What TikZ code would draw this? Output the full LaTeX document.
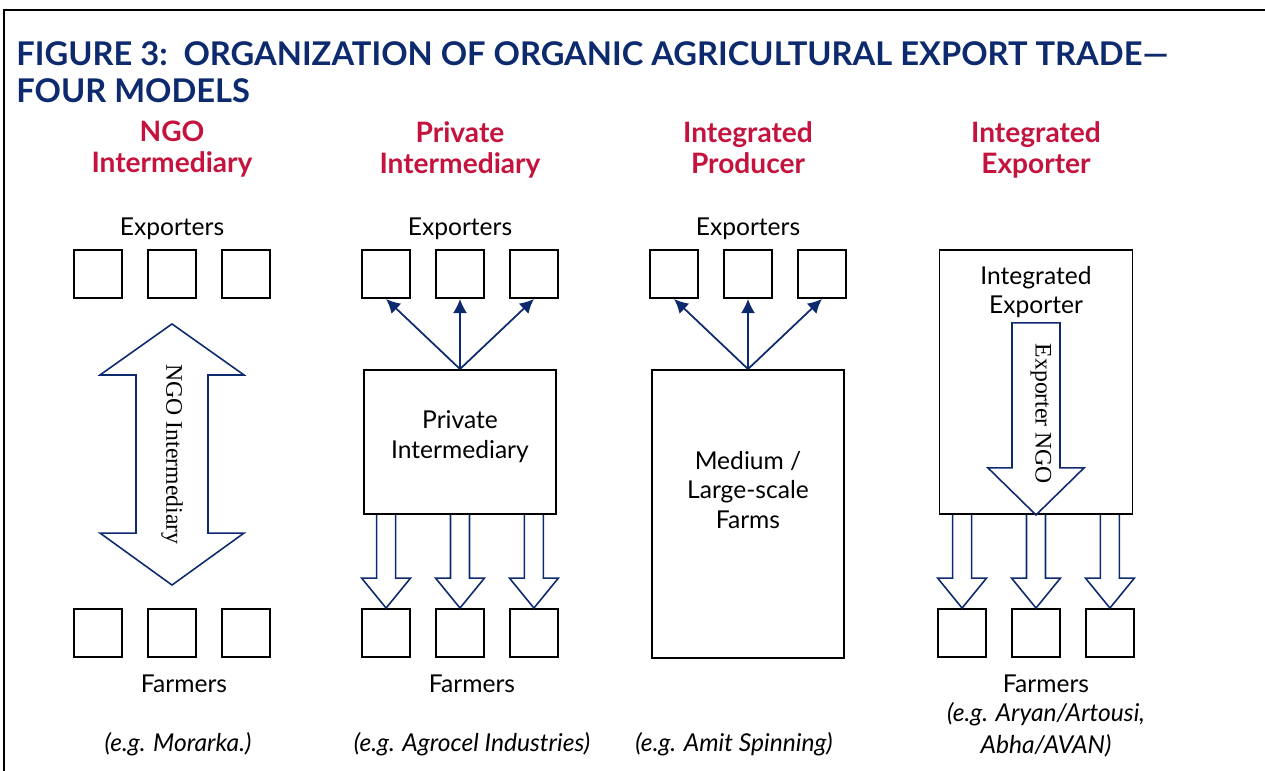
\documentclass[tikz,border=0pt]{standalone}
\usepackage{fontspec}
\setmainfont{Lato}
\newfontfamily\serifrm{Liberation Serif}
\usetikzlibrary{positioning,calc,arrows.meta}
\definecolor{navy}{RGB}{14,42,110}
\definecolor{crimson}{RGB}{196,20,62}
\newcommand{\fatarrow}[2]{\draw[fat] ($(#1)+(-9.5,0)$) -- ($(#2)+(-9.5,-30)$) -- ($(#2)+(-24.5,-30)$) -- (#2) -- ($(#2)+(24.5,-30)$) -- ($(#2)+(9.5,-30)$) -- ($(#1)+(9.5,0)$);}

\begin{document}
\begin{tikzpicture}[x=0.02cm,y=-0.02cm]
\tikzstyle{box}=[rectangle, draw=black, line width=1.1pt, minimum size=0.96cm, inner sep=0, node distance=0.48cm]
\tikzstyle{bigbox}=[rectangle, draw=black, line width=1.1pt, minimum width=3.84cm, inner sep=0]
\tikzstyle{connect}=[-{Latex[length=8pt,width=8pt]}, navy, line width=1pt]
\tikzstyle{fat}=[navy, line width=0.9pt, line join=miter]
\tikzstyle{title}=[anchor=base west, navy, inner sep=0, font=\fontsize{18.6}{20}\bfseries\selectfont]
\tikzstyle{head}=[crimson, anchor=north, inner sep=0, font=\fontsize{16}{17.6}\bfseries\selectfont, align=center]
\tikzstyle{lbl}=[font=\fontsize{14}{17}\selectfont, align=center]
\tikzstyle{eg}=[font=\fontsize{14}{18}\itshape\selectfont, align=center]
\tikzstyle{side}=[font=\serifrm\fontsize{13.5}{16}\selectfont, rotate=-90]
  \useasboundingbox (0,0) rectangle (1265,771);
  \draw[line width=1.1pt] (4,771) -- (4,10) -- (1265,10);
  \node[title] (t1) at (16,65) {FIGURE 3:\ \ ORGANIZATION OF ORGANIC AGRICULTURAL EXPORT TRADE—};
  \node[title] (t2) at (16,102) {FOUR MODELS};
  \node[head] (h1) at (172,121) {NGO\\Intermediary};
  \node[head] (h2) at (460,121) {Private\\Intermediary};
  \node[head] (h3) at (748,121) {Integrated\\Producer};
  \node[head] (h4) at (1036,121) {Integrated\\Exporter};

  \node[box] (e1b) at (172,274) [label={[lbl,label distance=2pt]above:Exporters}] {};
  \node[box] (e1a) [left=of e1b] {};
  \node[box] (e1c) [right=of e1b] {};
  \node[box] (f1b) at (172,633) {};
  \node[box] (f1a) [left=of f1b] {};
  \node[box] (f1c) [right=of f1b] {};
  \coordinate (n1top) at ($(e1b.south)+(0,25)$);
  \coordinate (n1bot) at ($(f1b.north)+(0,-23)$);
  \draw[fat] (n1top) -- ++(72,51) -- ++(-36,0) -- ($(n1bot)+(36,-52)$) -- ++(36,0) -- (n1bot)
    -- ++(-72,-52) -- ++(36,0) -- ($(n1top)+(-36,51)$) -- ++(-36,0) -- cycle;
  \node[side] (ngo) at ($(n1top)!0.5!(n1bot)$) {NGO Intermediary};

  \node[box] (e2b) at (460,274) [label={[lbl,label distance=2pt]above:Exporters}] {};
  \node[box] (e2a) [left=of e2b] {};
  \node[box] (e2c) [right=of e2b] {};
  \node[bigbox, minimum height=2.88cm] (pi) at (460,442) {};
  \node[lbl] (pit) at (460,437) {Private\\Intermediary};
  \node[box] (f2b) at (460,633) {};
  \node[box] (f2a) [left=of f2b] {};
  \node[box] (f2c) [right=of f2b] {};
  \path[connect] (pi.north) edge (e2a.south)
                 (pi.north) edge (e2b.south)
                 (pi.north) edge (e2c.south);
  \coordinate (s2a) at (pi.south -| f2a.north);
  \coordinate (s2b) at (pi.south -| f2b.north);
  \coordinate (s2c) at (pi.south -| f2c.north);
  \fatarrow{s2a}{f2a.north}
  \fatarrow{s2b}{f2b.north}
  \fatarrow{s2c}{f2c.north}

  \node[box] (e3b) at (748,274) [label={[lbl,label distance=2pt]above:Exporters}] {};
  \node[box] (e3a) [left=of e3b] {};
  \node[box] (e3c) [right=of e3b] {};
  \node[bigbox, minimum height=5.76cm] (mf) at (748,514) {};
  \node[lbl] (mft) at (748,490) {Medium /\\Large-scale\\Farms};
  \path[connect] (mf.north) edge (e3a.south)
                 (mf.north) edge (e3b.south)
                 (mf.north) edge (e3c.south);

  \node[bigbox, minimum width=3.86cm, minimum height=5.28cm] (ie) at (1036,382) {};
  \node[lbl] (iet) at (1036,292) {Integrated\\Exporter};
  \draw[fat] ($(ie.south)+(-24,-192)$) -- ($(ie.south)+(-24,-47)$) -- ++(-24,0) -- (ie.south)
    -- ++(48,-47) -- ++(-24,0) -- ($(ie.south)+(24,-192)$) -- cycle;
  \node[side] (eng) at ($(ie.south)+(5,-101)$) {Exporter NGO};
  \node[box] (f4b) at (1036,633) {};
  \node[box] (f4a) [left=of f4b] {};
  \node[box] (f4c) [right=of f4b] {};
  \coordinate (s4a) at (ie.south -| f4a.north);
  \coordinate (s4b) at (ie.south -| f4b.north);
  \coordinate (s4c) at (ie.south -| f4c.north);
  \fatarrow{s4a}{f4a.north}
  \fatarrow{s4b}{f4b.north}
  \fatarrow{s4c}{f4c.north}

  \node[lbl] (fa1) at (184,684) {Farmers};
  \node[lbl] (fa2) at (472,684) {Farmers};
  \node[lbl] (fa4) at (1046,684) {Farmers};
  \node[eg] (eg1) at (178,744) {(e.g. Morarka.)};
  \node[eg] (eg2) at (472,744) {(e.g. Agrocel Industries)};
  \node[eg] (eg3) at (734,744) {(e.g. Amit Spinning)};
  \node[eg] (eg4) at (1046,730) {(e.g. Aryan/Artousi,\\Abha/AVAN)};
\end{tikzpicture}
\end{document}
